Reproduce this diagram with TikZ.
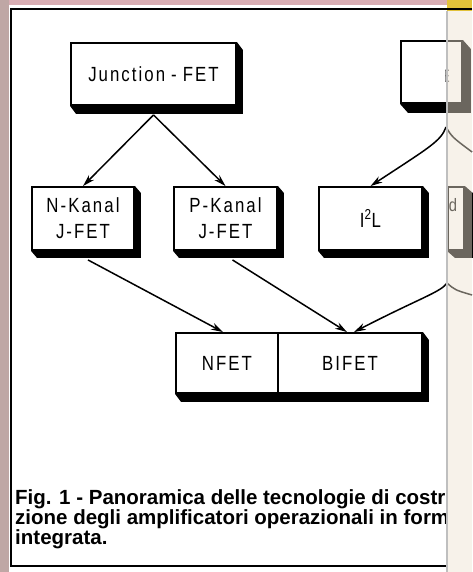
\documentclass[tikz,border=0pt]{standalone}
\usepackage{fontspec}
\setmainfont{Liberation Sans}
\newfontfamily\isofont[FakeStretch=0.82,LetterSpace=10,WordSpace=0.9]{Liberation Sans}
\usetikzlibrary{arrows.meta,calc}
\definecolor{cream}{HTML}{EEE4D2}
\definecolor{edgepink}{HTML}{D9AEB4}
\definecolor{edgegrey}{HTML}{BFA7A5}
\definecolor{cornery}{HTML}{E2C23A}
\newcommand\extr[4]{% sw node, ne node, dx, dy
  \fill[black] (#1.south west) -- ($(#1.south west)+(#3,#4)$) -- ($(#2.south east)+(#3,#4)$)
    -- ($(#2.north east)+(#3,#4)$) -- (#2.north east) -- (#2.south east) -- cycle;}
\begin{document}
\begin{tikzpicture}[x=1pt,y=-1pt,
  box/.style={draw=black,line width=1.9pt,fill=white,inner sep=0pt,
    font=\isofont\fontsize{20.5}{26}\selectfont,align=center},
  arr/.style={line width=1.5pt,-{Stealth[length=12pt,width=7pt]}},
  plain/.style={line width=1.5pt},
  frameline/.style={line width=2.2pt},
  caption/.style={font=\bfseries\fontsize{20.5}{20}\selectfont,align=left,inner sep=0pt,anchor=north west}]
\useasboundingbox (0,0) rectangle (472,572);
\fill[white] (0,0) rectangle (472,572);
% page edges
\fill[edgepink] (0,0) rectangle (447,5);
\fill[edgegrey] (0,0) rectangle (9,572);
\fill[cornery] (447,0) rectangle (472,11);
% frame
\draw[frameline] (472,9) -- (11,9) -- (11,566) -- (447,566);
% boxes
\node[box,minimum width=165pt,minimum height=62pt] (jfet) at (153.5,74) {Junction - FET};
\node[box,minimum width=102pt,minimum height=63pt] (nk) at (83,218.5) {N-Kanal\\J-FET};
\node[box,minimum width=103pt,minimum height=63pt] (pk) at (225.5,218.5) {P-Kanal\\J-FET};
\node[box,minimum width=103pt,minimum height=63pt] (iil) at (370.5,218.5) {I\textsuperscript{2}L};
\node[box,minimum width=102pt,minimum height=60pt] (nfet) at (227,363) {NFET};
\node[box,minimum width=144pt,minimum height=60pt] (bifet) at (350,363) {BIFET};
\node[box,minimum width=61pt,minimum height=62pt] (ebox) at (431.5,72) {};
\node[box,minimum width=16pt,minimum height=63pt,anchor=west] (dbox) at (447,218.5) {};
\node[font=\isofont\fontsize{18}{20}\selectfont,text=black!60,xscale=0.5] (etext) at (447,76) {E};
\node[font=\isofont\fontsize{18}{20}\selectfont,inner sep=0pt] (dtext) at (453,205) {d};
% extrusions
\extr{jfet}{jfet}{6}{8}
\extr{nk}{nk}{6}{7}
\extr{pk}{pk}{6}{7}
\extr{iil}{iil}{6}{7}
\extr{nfet}{bifet}{6}{8}
\extr{ebox}{ebox}{8}{9}
\extr{dbox}{dbox}{8}{7}
% connectors
\coordinate (fork1) at (446,127);
\coordinate (out1) at (472,152);
\coordinate (fork2) at (447,283);
\coordinate (out2) at (472,295);
\draw[arr] ($(jfet.south)+(0,9)$) -- (nk.north);
\draw[arr] ($(jfet.south)+(0,9)$) -- (pk.north);
\draw[arr] (fork1) .. controls (441,141) and (430,147) .. (iil.north);
\draw[plain] (fork1) .. controls (452,137) .. (out1);
\draw[arr] ($(nk.south)+(5,9)$) -- ([xshift=-4pt]nfet.north);
\draw[arr] ($(pk.south)+(7,9)$) -- ([xshift=-3pt]bifet.north);
\draw[arr] (fork2) .. controls (441,292) and (420,298) .. ([xshift=4pt]bifet.north);
\draw[plain] (fork2) .. controls (455,290) .. (out2);
% caption
\node[caption] (cap) at (15,489) {Fig. 1 - Panoramica delle tecnologie di costr\\
zione degli amplificatori operazionali in form\\
integrata.};
% page fold
\fill[cream,opacity=0.45] (447,11) rectangle (472,572);
\draw[black!25,line width=1.5pt] (447,11) -- (447,572);
\end{tikzpicture}
\end{document}
